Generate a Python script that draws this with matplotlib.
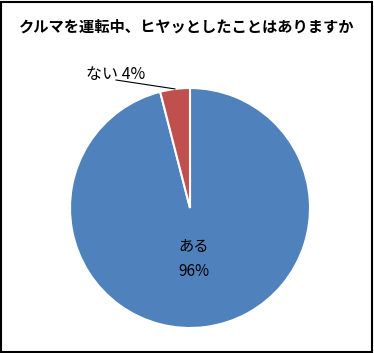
import numpy as np
import matplotlib.pyplot as plt
from matplotlib.patches import Rectangle

plt.rcParams['font.family'] = ['Noto Sans CJK JP', 'DejaVu Sans']

# data
title = 'クルマを運転中、ヒヤッとしたことはありますか'
labels = ['ある', 'ない']
values = [96, 4]
colors = ['#4F81BD', '#C0504D']

W, H = 374, 353
fig = plt.figure(figsize=(W / 100, H / 100), dpi=100)
ax = fig.add_axes([0, 0, 1, 1])
ax.set_xlim(0, W)
ax.set_ylim(0, H)

cx, cy, r = 190, H - 208, 120
wedges, _ = ax.pie(values, colors=colors, startangle=90, counterclock=False,
                   center=(cx, cy), radius=r, frame=True,
                   wedgeprops=dict(edgecolor='white', linewidth=1.5))
ax.set_xlim(0, W)
ax.set_ylim(0, H)
ax.set_aspect('auto')
ax.axis('off')

# big slice label inside
w0 = wedges[0]
ang = np.deg2rad((w0.theta1 + w0.theta2) / 2)
lx = cx + 0.03 * r * np.cos(ang) + 3
ly = cy + 0.42 * r * np.sin(ang)
ax.text(lx, ly + 12, labels[0], ha='center', va='center', fontsize=11)
ax.text(lx, ly - 13, f'{values[0]}%', ha='center', va='center', fontsize=11)

# small slice label outside with leader line
w1 = wedges[1]
ang = np.deg2rad((w1.theta1 + w1.theta2) / 2)
ex, ey = cx + r * np.cos(ang), cy + r * np.sin(ang)
ax.plot([116, ex], [H - 80, ey], color='black', lw=0.8)
ax.text(116, H - 74, f'{labels[1]} {values[1]}%', ha='center', va='center',
        fontsize=11.5)

ax.text(W / 2, H - 27, title, ha='center', va='center', fontsize=11,
        fontweight='bold')

fig.patches.append(Rectangle((1, 1), W - 3, H - 3, transform=None,
                             fill=False, edgecolor='black', lw=1.5))

fig.savefig('out.png', dpi=100)
